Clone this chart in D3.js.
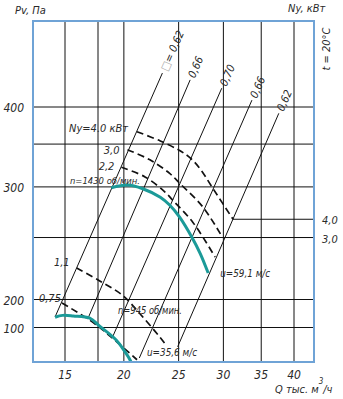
<!DOCTYPE html>
<html lang="ru">
<head>
<meta charset="UTF-8">
<title>Pv, Ny - Q</title>
<style>
  body { margin: 0; background: #fff; }
  svg { display: block; }
  text {
    font-family: "DejaVu Sans Condensed", "DejaVu Sans", sans-serif;
    font-stretch: condensed;
    font-style: italic;
    fill: #2a2a2a;
  }
</style>
</head>
<body>
<script src="https://cdn.jsdelivr.net/npm/d3@7"></script>
<script>
// grid and ticks (Q тыс. м3/ч, Pv Па)
const xGrid = [15, 18, 20, 25, 30, 35, 40];
const xTicks = [15, 20, 25, 30, 35, 40];
const yGrid = [100, 200, 250, 300, 350, 400];
const yTicks = [100, 200, 300, 400];

// efficiency rays, top and bottom ends [Q, Pv]
const etaLabels = ["0,62", "0,66", "0,70", "0,66", "0,62"];
const etaTop = [[23.4, 452], [26.2, 441], [29.8, 428], [33.7, 410], [37.6, 391]];
const etaBottom = [[14.2, 130], [17.0, 123], [19.1, 79], [21.3, 47], [24.9, 62]];

// Pv curves for two speeds
const pv1430 = [[19.0, 299], [20.3, 302], [21.6, 298], [23.2, 289], [24.1, 281], [25.1, 269], [26.4, 250], [27.3, 236], [28.2, 220]];
const pv945 = [[14.2, 129], [14.8, 135], [15.7, 133], [17.2, 126], [18.1, 104], [19.4, 73], [20.0, 57], [20.5, 45], [20.8, 36]];

// power curves Ny, кВт
const ny40 = [[21.1, 366], [23.2, 354], [25.1, 342], [26.2, 333], [27.3, 320], [28.7, 299], [31.2, 267]];
const ny30 = [[20.3, 343], [22.2, 331], [24.1, 315], [25.1, 304], [27.6, 279], [29.9, 250]];
const ny22 = [[19.8, 322], [21.8, 311], [23.6, 295], [24.4, 286], [26.5, 264], [29.0, 233]];
const ny11 = [[16.0, 224], [18.1, 214], [19.9, 203], [21.3, 143], [23.0, 83], [23.6, 68]];
const ny075 = [[14.75, 183], [17.2, 120], [18.9, 81], [21.1, 45]];
const nyCurves = [ny40, ny30, ny22, ny11, ny075];
const nyLabels = ["Ny=4.0 кВт", "3,0", "2,2", "1,1", "0,75"];
const nyAxisLabels = ["4,0", "3,0"];

const width = 343, height = 399;
const mLeft = 33, mRight = 314, mTop = 21, mBottom = 362;

const svg = d3.select("body").append("svg")
  .attr("width", width)
  .attr("height", height);

// broken log axes, as on the original sheet
const x = d3.scaleLog().domain([15, 18, 40]).range([65, 98, 294]);
const y = d3.scaleLog().domain([100, 200, 400]).range([327.5, 299.5, 107]);

svg.append("clipPath").attr("id", "plot")
  .append("rect")
  .attr("x", mLeft).attr("y", mTop)
  .attr("width", mRight - mLeft).attr("height", mBottom - mTop);

// grid
const grid = svg.append("g").attr("stroke", "#111").attr("stroke-width", 1);
grid.selectAll(".vx").data(xGrid).enter().append("line")
  .attr("x1", d => x(d)).attr("x2", d => x(d))
  .attr("y1", mTop).attr("y2", mBottom);
grid.selectAll(".hy").data(yGrid).enter().append("line")
  .attr("x1", mLeft).attr("x2", mRight)
  .attr("y1", d => y(d)).attr("y2", d => y(d));

const plot = svg.append("g").attr("clip-path", "url(#plot)");

// efficiency rays
plot.append("g").selectAll("line")
  .data(etaTop)
  .enter().append("line")
  .attr("x1", (d, i) => x(etaBottom[i][0]))
  .attr("y1", (d, i) => y(etaBottom[i][1]))
  .attr("x2", d => x(d[0]))
  .attr("y2", d => y(d[1]))
  .attr("stroke", "#111")
  .attr("stroke-width", 1);

const line = d3.line()
  .x(d => x(d[0]))
  .y(d => y(d[1]))
  .curve(d3.curveCatmullRom);

// Ny curves
plot.append("g").selectAll("path")
  .data(nyCurves)
  .enter().append("path")
  .attr("d", line)
  .attr("fill", "none")
  .attr("stroke", "#111")
  .attr("stroke-width", 1.7)
  .attr("stroke-dasharray", "7,4");

// Ny scale on the right
nyAxisLabels.forEach((lab, i) => {
  const p = nyCurves[i][nyCurves[i].length - 1];
  svg.append("line")
    .attr("x1", x(p[0])).attr("x2", mRight)
    .attr("y1", y(p[1])).attr("y2", y(p[1]))
    .attr("stroke", "#111").attr("stroke-width", 1);
  svg.append("text")
    .attr("x", mRight + 8).attr("y", y(p[1]) + 5)
    .attr("font-size", 11)
    .attr("fill", "#444")
    .text(lab);
});

// Pv curves
plot.append("g").selectAll("path")
  .data([pv1430, pv945])
  .enter().append("path")
  .attr("d", line)
  .attr("fill", "none")
  .attr("stroke", "#1b9a98")
  .attr("stroke-width", 3);

// frame
svg.append("rect")
  .attr("x", mLeft).attr("y", mTop)
  .attr("width", mRight - mLeft).attr("height", mBottom - mTop)
  .attr("fill", "none")
  .attr("stroke", "#6fa3d6")
  .attr("stroke-width", 2);

// tick labels
svg.append("g").selectAll("text")
  .data(yTicks)
  .enter().append("text")
  .attr("x", 24).attr("y", d => y(d) + 5)
  .attr("text-anchor", "end")
  .attr("font-size", 12)
  .attr("fill", "#333")
  .text(d => d);

svg.append("g").selectAll("text")
  .data(xTicks)
  .enter().append("text")
  .attr("x", d => x(d)).attr("y", 379)
  .attr("text-anchor", "middle")
  .attr("font-size", 12)
  .attr("fill", "#333")
  .text(d => d);

// efficiency labels along the rays
etaTop.forEach((d, i) => {
  const x0 = x(etaBottom[i][0]), y0 = y(etaBottom[i][1]);
  const x1 = x(d[0]), y1 = y(d[1]);
  const ang = Math.atan2(y1 - y0, x1 - x0) * 180 / Math.PI;
  const len = Math.hypot(x1 - x0, y1 - y0);
  const ux = (x1 - x0) / len, uy = (y1 - y0) / len;
  const t = svg.append("text")
    .attr("transform", `translate(${x1 + ux * 3},${y1 + uy * 3}) rotate(${ang})`)
    .attr("dy", "0.35em")
    .attr("font-size", 11);
  if (i === 0) {
    t.append("tspan").attr("fill", "#aaa").text("□");
    t.append("tspan").text("= " + etaLabels[i]);
  } else {
    t.text(etaLabels[i]);
  }
});

// Ny curve labels
const nyOff = [[-9, 0], [-8, 4], [-7, 3], [-7, -2], [-1, -1]];
nyCurves.forEach((c, i) => {
  svg.append("text")
    .attr("x", x(c[0][0]) + nyOff[i][0])
    .attr("y", y(c[0][1]) + nyOff[i][1])
    .attr("text-anchor", "end")
    .attr("font-size", 11)
    .text(nyLabels[i]);
});

// speed labels
svg.append("text")
  .attr("x", 70).attr("y", 184)
  .attr("font-size", 9)
  .attr("textLength", 70).attr("lengthAdjust", "spacingAndGlyphs")
  .text("n=1430 об/мин.");
svg.append("text")
  .attr("x", 118).attr("y", 314)
  .attr("font-size", 10)
  .attr("textLength", 64).attr("lengthAdjust", "spacingAndGlyphs")
  .text("n=945 об/мин.");

svg.append("text")
  .attr("x", x(pv1430[pv1430.length - 1][0]) + 12)
  .attr("y", y(pv1430[pv1430.length - 1][1]) + 4)
  .attr("font-size", 10)
  .attr("textLength", 50).attr("lengthAdjust", "spacingAndGlyphs")
  .text("u=59,1 м/с");
svg.append("text")
  .attr("x", 147).attr("y", 356)
  .attr("font-size", 10)
  .attr("textLength", 50).attr("lengthAdjust", "spacingAndGlyphs")
  .text("u=35,6 м/с");

// axis titles
svg.append("text")
  .attr("x", 15).attr("y", 14)
  .attr("font-size", 11)
  .text("Pv, Па");
svg.append("text")
  .attr("x", 288).attr("y", 12)
  .attr("font-size", 11)
  .text("Ny, кВт");
svg.append("text")
  .attr("transform", "translate(330,49) rotate(-90)")
  .attr("text-anchor", "middle")
  .attr("font-size", 11)
  .text("t = 20°C");

const qt = svg.append("text")
  .attr("x", 275).attr("y", 393)
  .attr("font-size", 11)
  .attr("fill", "#333");
qt.append("tspan").text("Q тыс. м");
qt.append("tspan").attr("dy", -9).attr("font-size", 8).text("3");
qt.append("tspan").attr("dy", 9).text("/ч");
</script>
</body>
</html>
